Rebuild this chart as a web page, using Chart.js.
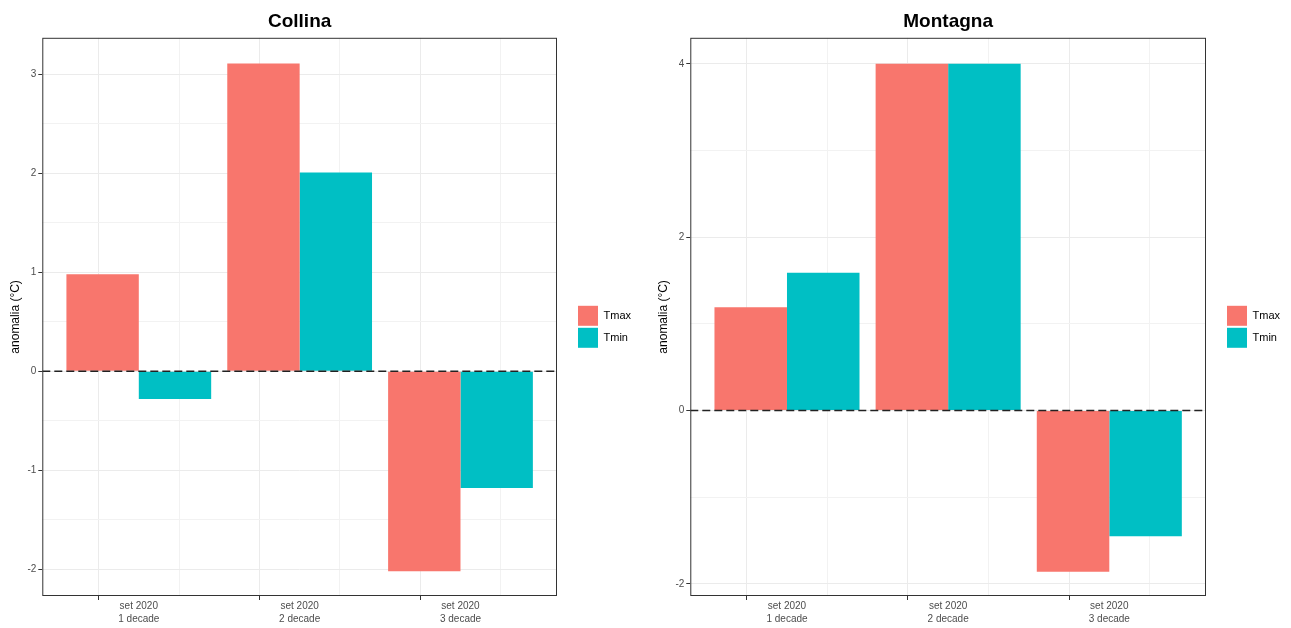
<!DOCTYPE html>
<html>
<head>
<meta charset="utf-8">
<script src="https://cdn.jsdelivr.net/npm/chart.js@4.4.1/dist/chart.umd.min.js"></script>
<style>
  html, body { margin: 0; padding: 0; background: #fff; }
  .wrap { display: flex; width: 1291px; height: 628px; }
  .panel { position: relative; height: 628px; }
  #p1 { width: 645px; }
  #p2 { width: 646px; }
</style>
</head>
<body>
<div class="wrap">
  <div class="panel" id="p1"><canvas id="chart-collina"></canvas></div>
  <div class="panel" id="p2"><canvas id="chart-montagna"></canvas></div>
</div>
<script>
// decades of September 2020
const decades = [1, 2, 3];
const decadeLabels = [
  ["set 2020", "1 decade"],
  ["set 2020", "2 decade"],
  ["set 2020", "3 decade"],
];
const seriesNames = ["Tmax", "Tmin"];
const seriesColors = ["#F8766D", "#00BFC4"];

const collinaTmax = [0.98, 3.11, -2.02];
const collinaTmin = [-0.28, 2.01, -1.18];
const collinaRange = [-2.27, 3.37];

const montagnaTmax = [1.19, 4.0, -1.86];
const montagnaTmin = [1.59, 4.0, -1.45];
const montagnaRange = [-2.14, 4.3];

Chart.defaults.font.family = '"Liberation Sans", Arial, sans-serif';
Chart.defaults.animation = false;

// panel border and the dashed zero line, drawn on top like ggplot
const panelFrame = {
  id: "panelFrame",
  afterDatasetsDraw(chart) {
    const { ctx, chartArea: a, scales } = chart;
    const y0 = scales.y.getPixelForValue(0);
    ctx.save();
    ctx.strokeStyle = "#222";
    ctx.lineWidth = 1.5;
    ctx.setLineDash([8, 4]);
    ctx.beginPath();
    ctx.moveTo(a.left, y0);
    ctx.lineTo(a.right, y0);
    ctx.stroke();
    ctx.setLineDash([]);
    ctx.strokeStyle = "#333";
    ctx.lineWidth = 1;
    ctx.strokeRect(a.left + 0.5, a.top + 0.5, a.right - a.left - 1, a.bottom - a.top - 1);
    ctx.restore();
  },
};

const tickVal = (c) => (c.tick ? c.tick.value : NaN);
const isMajorX = (v) => decades.includes(v);

function renderPanel(id, title, tmax, tmin, range, yStep, yMajor, pad) {
  const isMajorY = (v) => Number.isFinite(v) && Math.abs(v / yMajor - Math.round(v / yMajor)) < 1e-6;
  new Chart(document.getElementById(id), {
    type: "bar",
    data: {
      datasets: [tmax, tmin].map((vals, k) => ({
        label: seriesNames[k],
        data: decades.map((d, i) => ({ x: d, y: vals[i] })),
        backgroundColor: seriesColors[k],
        borderWidth: 0,
        categoryPercentage: 1.8,
        barPercentage: 1,
      })),
    },
    options: {
      responsive: true,
      maintainAspectRatio: false,
      layout: { padding: { left: pad[0], right: pad[1], top: 0, bottom: 2 } },
      plugins: {
        title: {
          display: true,
          text: title,
          fullSize: false,
          color: "#000",
          font: { size: 19, weight: "bold" },
          padding: { top: 10, bottom: 5 },
        },
        legend: {
          position: "right",
          align: "center",
          title: { display: true, text: " ", padding: 0, font: { size: 23 } },
          labels: { boxWidth: 20, boxHeight: 20, padding: 2, color: "#000", font: { size: 11 } },
        },
        tooltip: { enabled: false },
      },
      scales: {
        x: {
          type: "linear",
          min: 0.4,
          max: 3.6,
          offset: false,
          border: { display: false },
          grid: {
            color: (c) => (isMajorX(tickVal(c)) ? "#ebebeb" : "#f2f2f2"),
            tickColor: (c) => (isMajorX(tickVal(c)) ? "#333" : "rgba(0,0,0,0)"),
            tickLength: 4,
          },
          ticks: {
            stepSize: 0.5,
            includeBounds: false,
            autoSkip: false,
            maxRotation: 0,
            padding: 0,
            color: "#4d4d4d",
            font: { size: 10, lineHeight: 1.3 },
            callback: (v) => {
              const i = decades.indexOf(v);
              return i >= 0 ? decadeLabels[i] : "";
            },
          },
        },
        y: {
          min: range[0],
          max: range[1],
          border: { display: false },
          grid: {
            color: (c) => (isMajorY(tickVal(c)) ? "#ebebeb" : "#f2f2f2"),
            tickColor: (c) => (isMajorY(tickVal(c)) ? "#333" : "rgba(0,0,0,0)"),
            tickLength: 4,
          },
          ticks: {
            stepSize: yStep,
            includeBounds: false,
            autoSkip: false,
            padding: 2,
            color: "#4d4d4d",
            font: { size: 10 },
            callback: (v) => (isMajorY(v) ? String(Math.round(v)) : ""),
          },
          title: { display: true, text: "anomalia (°C)", color: "#000", font: { size: 12 }, padding: { top: 5, bottom: 3 } },
        },
        gap: {
          position: "right",
          display: true,
          grid: { display: false },
          border: { display: false },
          ticks: { display: false },
          afterFit: (s) => { s.width = 19; },
        },
      },
    },
    plugins: [panelFrame],
  });
}

renderPanel("chart-collina", "Collina", collinaTmax, collinaTmin, collinaRange, 0.5, 1, [3, 4]);
renderPanel("chart-montagna", "Montagna", montagnaTmax, montagnaTmin, montagnaRange, 1, 2, [6, 1]);
</script>
</body>
</html>
